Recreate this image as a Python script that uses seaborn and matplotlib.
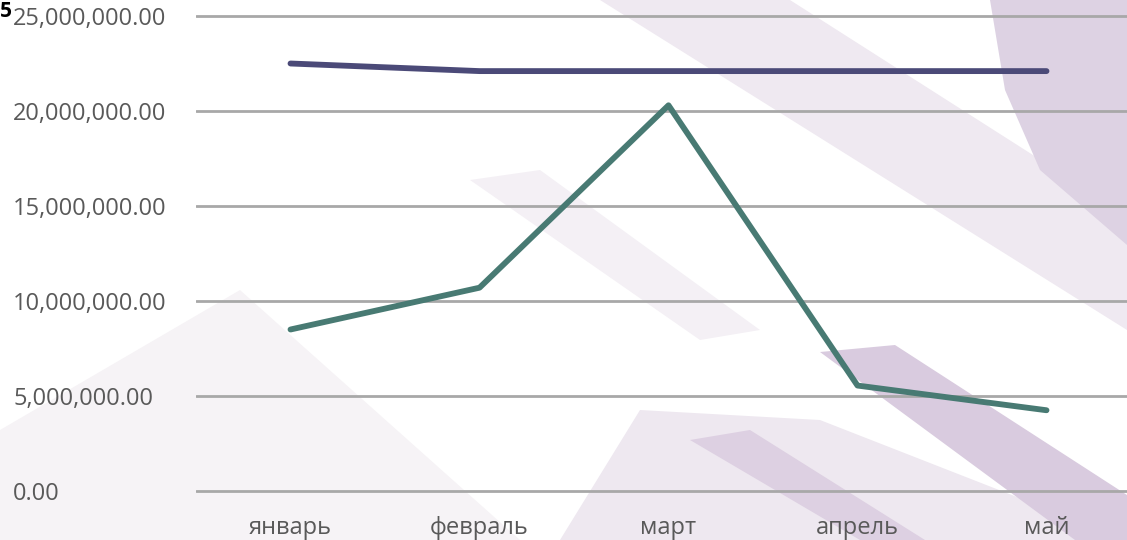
import pandas as pd
import matplotlib.pyplot as plt
import seaborn as sns
from matplotlib.patches import Polygon
from matplotlib.ticker import FuncFormatter

# Data
months = ["январь", "февраль", "март", "апрель", "май"]
series_a = [22.5e6, 22.1e6, 22.1e6, 22.1e6, 22.1e6]
series_b = [8.5e6, 10.7e6, 20.3e6, 5.55e6, 4.25e6]
series_names = ["ряд 1", "ряд 2"]
colors = ["#4b4a78", "#487a73"]

df = pd.DataFrame({
    "month": months * 2,
    "value": series_a + series_b,
    "series": [series_names[0]] * 5 + [series_names[1]] * 5,
})

sns.set_theme(style="white")
plt.rcParams["font.family"] = ["Open Sans", "DejaVu Sans"]

W, H = 1127, 540
fig = plt.figure(figsize=(W / 100, H / 100), dpi=100)
fig.patch.set_facecolor("white")

# soft lavender background shapes (pixel coords from top-left), kept behind the axes
shapes = [
    ([(0, 430), (240, 290), (520, 540), (0, 540)], "#f6f3f6"),
    ([(560, 540), (640, 410), (820, 420), (1127, 540)], "#eee8f0"),
    ([(600, 0), (790, 0), (1127, 215), (1127, 330)], "#efe9f1"),
    ([(990, 0), (1127, 0), (1127, 245), (1040, 170), (1005, 90)], "#ddd2e3"),
    ([(820, 352), (895, 345), (1127, 495), (1127, 540), (1075, 540)], "#d9cbdf"),
    ([(690, 440), (750, 430), (925, 540), (860, 540)], "#ddd0e2"),
    ([(470, 180), (540, 170), (760, 330), (700, 340)], "#f4f0f5"),
]
for pts, col in shapes:
    fig.patches.append(Polygon([(x / W, 1 - y / H) for x, y in pts], closed=True,
                               transform=fig.transFigure, facecolor=col,
                               edgecolor="none", zorder=-5))

# axes placement: 0 at y=491px, 25M at y=16px; categories spaced ~189px
left_px, right_px = 196, W
ax = fig.add_axes([left_px / W, (H - 500.5) / H, (right_px - left_px) / W, 494 / H])
ax.set_facecolor("none")
ax.set_zorder(2)

sns.lineplot(data=df, x="month", y="value", hue="series", palette=colors,
             linewidth=4.2, sort=False, legend=False, ax=ax)

ax.set_xlim(-0.5, -0.5 + (right_px - left_px) / 189)
ax.set_ylim(-0.5e6, 25.5e6)
ax.set_yticks([0, 5e6, 10e6, 15e6, 20e6, 25e6])
ax.yaxis.set_major_formatter(FuncFormatter(lambda v, p: f"{v:,.2f}"))
ax.grid(axis="y", color="#a8a8a8", linewidth=2)
ax.grid(axis="x", visible=False)
ax.set_axisbelow(True)
for s in ax.spines.values():
    s.set_visible(False)

ax.tick_params(axis="y", length=0, pad=183 * 0.72, labelsize=17, labelcolor="#595959")
ax.tick_params(axis="x", length=0, pad=11, labelsize=17, labelcolor="#595959")
for lbl in ax.get_yticklabels():
    lbl.set_horizontalalignment("left")
ax.set_xlabel("")
ax.set_ylabel("")

# small heading fragment in the corner
fig.text(0.0, 0.998, "5", fontsize=15, fontweight="bold", color="black",
         ha="left", va="top")

fig.savefig("out.png", dpi=100)
